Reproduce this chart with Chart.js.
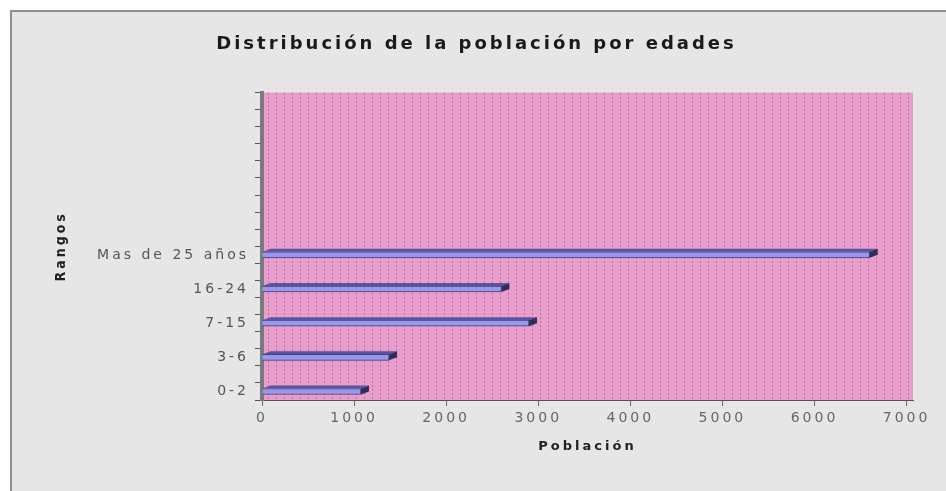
<!DOCTYPE html>
<html>
<head>
<meta charset="utf-8">
<script src="https://cdn.jsdelivr.net/npm/chart.js@4.4.1/dist/chart.umd.min.js"></script>
<style>
  html, body { margin: 0; padding: 0; background: #fff; }
  .wrap { position: relative; width: 946px; height: 491px; overflow: hidden; }
  .panel { position: absolute; left: 10px; top: 10px; width: 960px; height: 500px; background: #e6e6e6; border-left: 2px solid #8e8e8e; border-top: 2px solid #8e8e8e; }
  #chart { position: absolute; left: 0; top: 0; }
</style>
</head>
<body>
<div class="wrap">
  <div class="panel"></div>
  <canvas id="chart" width="946" height="491"></canvas>
</div>
<script>
const categories = ["0-2", "3-6", "7-15", "16-24", "Mas de 25 años"];
const population = [1075, 1380, 2900, 2600, 6600];
const xTicks = [0, 1000, 2000, 3000, 4000, 5000, 6000, 7000];
const emptyRows = 4; // unused rows above the last range

const rows = categories.length + emptyRows;

// pink dotted fill of the plot area
const tile = document.createElement("canvas");
tile.width = 8;
tile.height = 4;
const tctx = tile.getContext("2d");
tctx.fillStyle = "#ea9dcd";
tctx.fillRect(0, 0, 8, 4);
tctx.fillStyle = "#a87a98";
tctx.fillRect(4, 1, 1, 2);

const spacing = "3px";

const plotBackground = {
  id: "plotBackground",
  beforeLayout(chart) {
    chart.ctx.letterSpacing = spacing;
  },
  beforeDraw(chart) {
    const { ctx, chartArea } = chart;
    ctx.save();
    ctx.fillStyle = ctx.createPattern(tile, "repeat");
    ctx.fillRect(chartArea.left, chartArea.top, chartArea.right - chartArea.left, chartArea.bottom - chartArea.top);
    ctx.restore();
    ctx.letterSpacing = spacing;
  },
};

// top face and end cap so the bars look like the 3D ones
const bars3d = {
  id: "bars3d",
  afterDatasetsDraw(chart) {
    const ctx = chart.ctx;
    const dx = 8, dy = 3;
    chart.getDatasetMeta(0).data.forEach((bar) => {
      const { x, y, base, height } = bar.getProps(["x", "y", "base", "height"], true);
      const top = y - height / 2;
      const bottom = y + height / 2;
      ctx.save();
      ctx.fillStyle = "#56569e";
      ctx.beginPath();
      ctx.moveTo(base, top);
      ctx.lineTo(x, top);
      ctx.lineTo(x + dx, top - dy);
      ctx.lineTo(base + dx, top - dy);
      ctx.closePath();
      ctx.fill();
      ctx.fillStyle = "#2e2e58";
      ctx.beginPath();
      ctx.moveTo(x, top);
      ctx.lineTo(x + dx, top - dy);
      ctx.lineTo(x + dx, bottom - dy);
      ctx.lineTo(x, bottom);
      ctx.closePath();
      ctx.fill();
      ctx.restore();
    });
  },
};

new Chart(document.getElementById("chart"), {
  type: "bar",
  data: {
    datasets: [
      {
        label: "Población",
        data: population.map((v, i) => ({ x: v, y: i })),
        backgroundColor: "#9797ec",
        borderColor: "#3e3e78",
        borderWidth: 1,
        barThickness: 6,
      },
    ],
  },
  options: {
    indexAxis: "y",
    responsive: false,
    animation: false,
    layout: { padding: { left: 40, right: 33, top: 20, bottom: 20 } },
    scales: {
      x: {
        type: "linear",
        min: 0,
        max: 7070,
        afterBuildTicks: (axis) => {
          axis.ticks = xTicks.map((v) => ({ value: v }));
        },
        afterFit: (axis) => {
          axis.height = 71;
        },
        ticks: {
          callback: (v) => String(v),
          color: "#666",
          font: { family: "DejaVu Sans", size: 14 },
          padding: 4,
        },
        grid: { drawOnChartArea: false, tickLength: 6, color: "#666" },
        border: { color: "#555", width: 1 },
        title: {
          display: true,
          text: "Población",
          color: "#222",
          font: { family: "DejaVu Sans", size: 13, weight: "bold" },
          padding: { top: 0, bottom: 17 },
        },
      },
      y: {
        type: "linear",
        min: -0.25,
        max: rows - 0.25,
        offset: false,
        afterBuildTicks: (axis) => {
          const t = [];
          for (let k = 0; k <= rows * 2; k++) t.push({ value: -0.25 + k * 0.5 });
          axis.ticks = t;
        },
        afterFit: (axis) => {
          axis.width = 222;
        },
        ticks: {
          autoSkip: false,
          callback: (v, i) => (i % 2 === 0 ? categories[i / 2] || "" : ""),
          labelOffset: -8.5,
          color: "#555",
          font: { family: "DejaVu Sans", size: 14 },
          padding: 6,
        },
        grid: { drawOnChartArea: false, offset: false, tickLength: 7, color: "#555" },
        border: { color: "#7a7a7a", width: 4 },
        title: {
          display: true,
          text: "Rangos",
          color: "#222",
          font: { family: "'Liberation Sans Narrow', 'DejaVu Sans Condensed', sans-serif", size: 14, weight: "bold" },
          padding: { top: 13, bottom: 0 },
        },
      },
    },
    plugins: {
      legend: { display: false },
      tooltip: { enabled: false },
      title: {
        display: true,
        text: "Distribución de la población por edades",
        color: "#1a1a1a",
        font: { family: "DejaVu Sans", size: 18, weight: "bold" },
        padding: { top: 14, bottom: 37 },
      },
    },
  },
  plugins: [plotBackground, bars3d],
});
</script>
</body>
</html>
